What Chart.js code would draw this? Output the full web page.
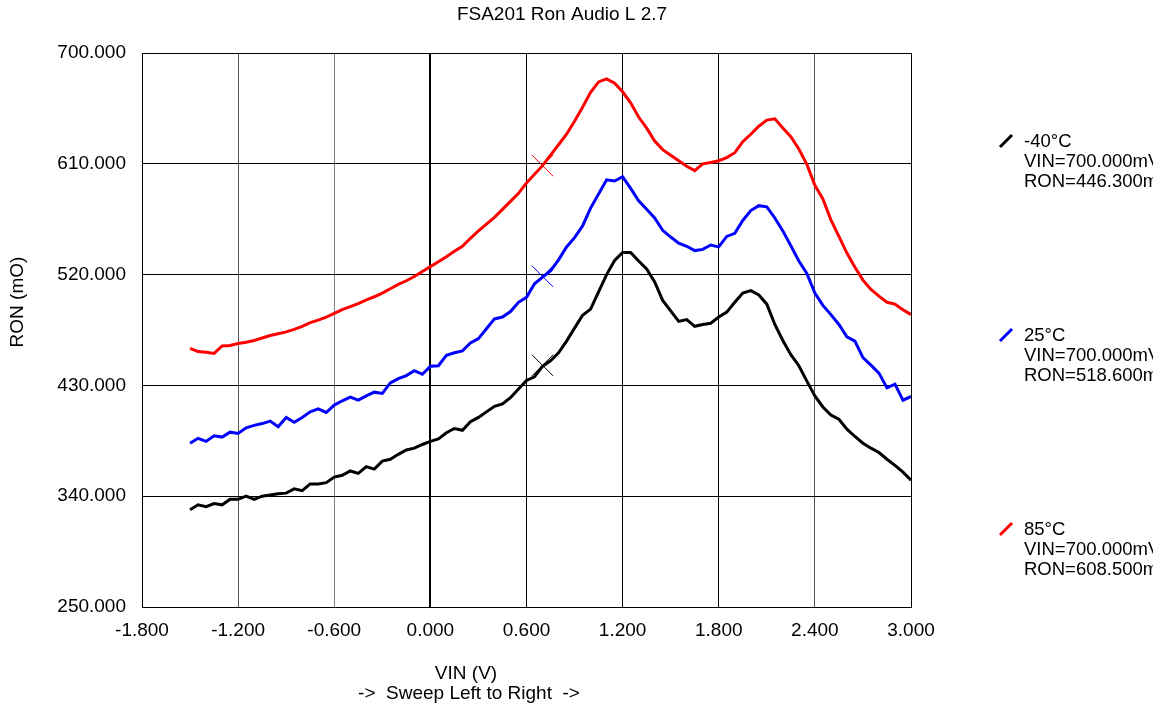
<!DOCTYPE html>
<html>
<head>
<meta charset="utf-8">
<title>FSA201 Ron Audio L 2.7</title>
<script src="https://cdn.jsdelivr.net/npm/chart.js@4/dist/chart.umd.min.js"></script>
<style>
  html, body { margin: 0; padding: 0; background: #fff; }
  #wrap { width: 1165px; height: 710px; }
</style>
</head>
<body>
<div id="wrap"><canvas id="ronChart" width="1165" height="710"></canvas></div>
<script>
"use strict";

// Sweep points (V)
const VIN = [
  -1.50, -1.45, -1.40, -1.35, -1.30, -1.25, -1.20, -1.15, -1.10, -1.05,
  -1.00, -0.95, -0.90, -0.85, -0.80, -0.75, -0.70, -0.65, -0.60, -0.55,
  -0.50, -0.45, -0.40, -0.35, -0.30, -0.25, -0.20, -0.15, -0.10, -0.05,
   0.00,  0.05,  0.10,  0.15,  0.20,  0.25,  0.30,  0.35,  0.40,  0.45,
   0.50,  0.55,  0.60,  0.65,  0.70,  0.75,  0.80,  0.85,  0.90,  0.95,
   1.00,  1.05,  1.10,  1.15,  1.20,  1.25,  1.30,  1.35,  1.40,  1.45,
   1.50,  1.55,  1.60,  1.65,  1.70,  1.75,  1.80,  1.85,  1.90,  1.95,
   2.00,  2.05,  2.10,  2.15,  2.20,  2.25,  2.30,  2.35,  2.40,  2.45,
   2.50,  2.55,  2.60,  2.65,  2.70,  2.75,  2.80,  2.85,  2.90,  2.95,
   3.00
];

// RON (mOhm) per temperature
const RON_M40 = [
  329, 333, 331.5, 334, 333, 337.5, 337.5, 340, 337.5, 340,
  341, 342, 342.5, 346, 344.5, 350, 350, 351, 355.5, 357,
  360.5, 358.5, 364, 362, 368.5, 370, 374, 377.5, 379, 382,
  384.5, 386.5, 391.5, 395, 393.5, 400.5, 404, 408.5, 413, 415,
  420, 427, 434, 437, 445.5, 450, 456.5, 466, 476.5, 487,
  492, 506, 520, 531.5, 538, 538, 531, 524.5, 514, 499,
  490.5, 482, 483.5, 478, 479.5, 480.5, 485.5, 489.5, 497.5, 505,
  507, 503.5, 496, 479.5, 466.5, 455, 446, 433.5, 421.5, 412.5,
  406, 402.5, 394.5, 388.5, 383, 379, 375.5, 370, 365, 359.5,
  353
];
const RON_25 = [
  383, 387, 384.5, 389, 388, 392, 391, 395.5, 397.5, 399,
  401, 396.5, 404, 400, 404, 408.5, 411, 408, 414, 417.5,
  420.5, 418, 421.5, 424.5, 423.5, 432, 435.5, 438, 442, 439,
  445.5, 446, 454.5, 456.5, 458, 464.5, 468, 476, 484, 485.5,
  490, 497.5, 501.5, 512.5, 518, 523, 532, 542.5, 550, 559.5,
  574, 585.5, 597, 596, 599.5, 590, 580, 573, 566, 556,
  550.5, 545.5, 543, 539.5, 540.5, 544, 542.5, 551, 553.5, 564,
  572, 576, 575, 566, 555.5, 543.5, 531, 521, 505, 495,
  487.5, 479.5, 469.5, 466, 452.5, 446.5, 440, 428, 431, 418,
  421
];
const RON_85 = [
  460, 457.5, 457, 456, 462, 462.5, 464, 465, 466.5, 468.5,
  470.5, 472, 473.5, 475.5, 478, 481, 483, 485.5, 488.5, 491.5,
  494, 496.5, 499.5, 502, 505, 508.5, 512, 515, 518.5, 522.5,
  526.5, 530.5, 534.5, 539, 543, 549.5, 555.5, 561, 566.5, 573,
  579.5, 586, 594.5, 601.5, 608.5, 617, 625.5, 634, 644.5, 656,
  668, 676.5, 679, 675.5, 668.5, 659.5, 648, 639, 628.5, 621.5,
  617, 612.5, 608, 604.5, 610, 611, 612.5, 615, 619, 628,
  634, 640.5, 645.5, 646.5, 639, 632, 622, 609.5, 592.5, 581.5,
  564.5, 551, 537.5, 526, 515.5, 508, 502.5, 497.5, 496, 491.5,
  487.5
];

// Cursor readout at VIN = 700 mV
const MARKER_VIN = 0.7;
const MARKER_RON = [446.3, 518.6, 608.5];

const SERIES_NAMES = ["-40\u00B0C", "25\u00B0C", "85\u00B0C"];
const SERIES_COLORS = ["#000000", "#0000ff", "#ff0000"];
const SERIES_DATA = [RON_M40, RON_25, RON_85];

const X_TICKS = [-1.8, -1.2, -0.6, 0.0, 0.6, 1.2, 1.8, 2.4, 3.0];
const Y_TICKS = [250, 340, 430, 520, 610, 700];

const FONT = "'Liberation Sans', Arial, sans-serif";

function fmt3(v) {
  if (Math.abs(v) < 1e-9) v = 0;
  return v.toFixed(3);
}

// Build line datasets and the cross markers
let datasets = [];
SERIES_DATA.forEach(function (ron, i) {
  datasets.push({
    label: SERIES_NAMES[i],
    data: VIN.map(function (v, k) { return { x: v, y: ron[k] }; }),
    borderColor: SERIES_COLORS[i],
    borderWidth: 3,
    pointRadius: 0,
    tension: 0,
    fill: false
  });
});
MARKER_RON.forEach(function (r, i) {
  datasets.push({
    label: "marker " + SERIES_NAMES[i],
    data: [{ x: MARKER_VIN, y: r }],
    showLine: false,
    pointStyle: "crossRot",
    pointRadius: 15,
    pointBorderWidth: 1,
    borderColor: SERIES_COLORS[i],
    backgroundColor: SERIES_COLORS[i]
  });
});

// Title, axis titles and the side legend
const textPlugin = {
  id: "textPlugin",
  afterDraw: function (chart) {
    let ctx = chart.ctx;
    ctx.save();
    ctx.fillStyle = "#000";
    ctx.font = "19px " + FONT;
    ctx.textAlign = "center";
    ctx.textBaseline = "alphabetic";
    ctx.fillText("FSA201 Ron Audio L 2.7", 562, 20);

    ctx.textBaseline = "middle";
    ctx.fillText("VIN (V)", 466, 674);
    ctx.fillText("->  Sweep Left to Right  ->", 469, 694);

    ctx.save();
    ctx.translate(18, 302);
    ctx.rotate(-Math.PI / 2);
    ctx.fillText("RON (mO)", 0, 0);
    ctx.restore();

    // legend, cut at the right edge like the original
    ctx.beginPath();
    ctx.rect(960, 100, 1153 - 960, 520);
    ctx.clip();
    let baseY = [147, 341, 535];
    ctx.textAlign = "left";
    ctx.textBaseline = "alphabetic";
    ctx.font = "18.5px " + FONT;
    for (let i = 0; i < SERIES_NAMES.length; i++) {
      let y = baseY[i];
      ctx.strokeStyle = SERIES_COLORS[i];
      ctx.lineWidth = 3;
      ctx.beginPath();
      ctx.moveTo(1000, y);
      ctx.lineTo(1012, y - 12);
      ctx.stroke();
      ctx.fillStyle = "#000";
      ctx.fillText(SERIES_NAMES[i], 1024, y);
      ctx.fillText("VIN=" + (MARKER_VIN * 1000).toFixed(3) + "mV", 1024, y + 20);
      ctx.fillText("RON=" + MARKER_RON[i].toFixed(3) + "mOhm", 1024, y + 40);
    }
    ctx.restore();
  }
};

function xGridColor(c) {
  let v = c.tick ? c.tick.value : 0;
  if (Math.abs(v + 1.2) < 1e-6) return "#555555";
  if (Math.abs(v + 0.6) < 1e-6) return "#808080";
  if (Math.abs(v - 2.4) < 1e-6) return "#555555";
  return "#000000";
}

function xGridWidth(c) {
  let v = c.tick ? c.tick.value : 1;
  return Math.abs(v) < 1e-6 ? 2 : 1;
}

let ronChart = new Chart(document.getElementById("ronChart"), {
  type: "line",
  data: { datasets: datasets },
  options: {
    responsive: false,
    animation: false,
    devicePixelRatio: 1,
    layout: { padding: { left: 0, right: 254, top: 53, bottom: 0 } },
    plugins: {
      legend: { display: false },
      title: { display: false },
      tooltip: { enabled: false }
    },
    scales: {
      x: {
        type: "linear",
        min: -1.8,
        max: 3.0,
        afterBuildTicks: function (scale) {
          scale.ticks = X_TICKS.map(function (v) { return { value: v }; });
        },
        afterFit: function (scale) { scale.height = 103; },
        ticks: {
          color: "#000",
          padding: 12,
          maxRotation: 0,
          autoSkip: false,
          font: { family: FONT, size: 19 },
          callback: function (v) { return fmt3(v); }
        },
        grid: { color: xGridColor, lineWidth: xGridWidth, drawTicks: false },
        border: { display: true, color: "#000", width: 1 }
      },
      y: {
        type: "linear",
        min: 250,
        max: 700,
        afterBuildTicks: function (scale) {
          scale.ticks = Y_TICKS.map(function (v) { return { value: v }; });
        },
        afterFit: function (scale) { scale.width = 142; },
        ticks: {
          color: "#000",
          padding: 16,
          autoSkip: false,
          font: { family: FONT, size: 19 },
          callback: function (v) { return fmt3(v); }
        },
        grid: { color: "#000", lineWidth: 1, drawTicks: false },
        border: { display: true, color: "#000", width: 1 }
      }
    }
  },
  plugins: [textPlugin]
});
</script>
</body>
</html>
